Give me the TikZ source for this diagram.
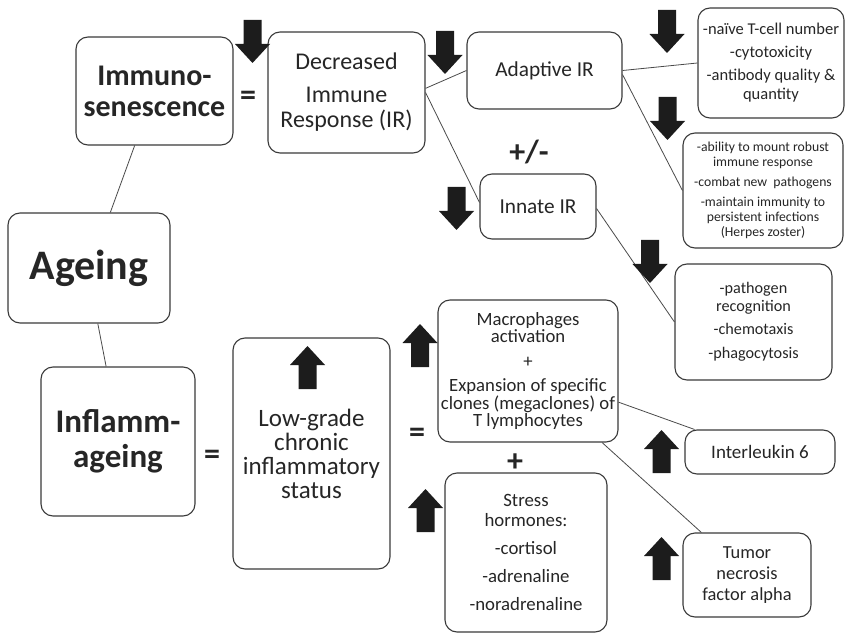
\documentclass[tikz,border=0pt]{standalone}
\usepackage{fontspec}
\setmainfont{Carlito}
\usetikzlibrary{calc}

\definecolor{boxline}{HTML}{3A3A3A}
\definecolor{txtgray}{HTML}{262626}
\definecolor{linkgray}{HTML}{4A4A4A}
\definecolor{arrowblack}{HTML}{1C1C1C}

\tikzset{
  box/.style={draw=boxline, line width=1.1pt, rounded corners=12pt, fill=white,
    align=center, inner sep=2pt, text=txtgray},
  link/.style={draw=linkgray, line width=0.8pt},
  sign/.style={font=\fontsize{32}{32}\selectfont\bfseries, text=txtgray},
  blockarr/.pic={
    \fill[arrowblack] (0,0) -- (17.5,19) -- (9,19) -- (9,43) -- (-9,43)
      -- (-9,19) -- (-17.5,19) -- cycle;
  }
}

\begin{document}
\begin{tikzpicture}[x=1pt, y=-1pt]
    \useasboundingbox (0,0) rectangle (848,636);

    % Left column
    \node[box, minimum width=157, minimum height=108,
      font=\fontsize{30}{31}\selectfont\bfseries] (immuno) at (154.5,91) {Immuno-\\senescence};
    \node[box, minimum width=162, minimum height=110,
      font=\fontsize{42}{44}\selectfont\bfseries] (ageing) at (89,268) {Ageing};
    \node[box, minimum width=154, minimum height=149,
      font=\fontsize{33}{35}\selectfont\bfseries] (inflamm) at (118,441.5) {Inflamm-\\ageing};

    % Immune response branch
    \node[box, minimum width=157, minimum height=121,
      font=\fontsize{24}{25}\selectfont] (decr) at (346.5,92.5) {Decreased\\[8pt]Immune\\Response (IR)};
    \node[box, minimum width=155, minimum height=77,
      font=\fontsize{21.3}{23}\selectfont] (adapt) at (544.5,70.5) {Adaptive IR};
    \node[box, minimum width=116, minimum height=65,
      font=\fontsize{21.3}{23}\selectfont] (innate) at (538,206.5) {Innate IR};
    \node[box, minimum width=146, minimum height=110,
      font=\fontsize{16.5}{19}\selectfont] (naive) at (771,63)
      {-naïve T-cell number\\[4pt]-cytotoxicity\\[4pt]-antibody quality \&\\quantity};
    \node[box, minimum width=160, minimum height=115,
      font=\fontsize{13.7}{15}\selectfont] (ability) at (763,190.5)
      {-ability to mount robust\\immune response\\[5pt]-combat new \ pathogens\\[5pt]-maintain immunity to\\persistent infections\\(Herpes zoster)};
    \node[box, minimum width=157, minimum height=116,
      font=\fontsize{16.2}{17.5}\selectfont] (patho) at (753.5,322)
      {-pathogen\\recognition\\[6pt]-chemotaxis\\[6pt]-phagocytosis};

    % Inflammation branch
    \node[box, minimum width=157, minimum height=231,
      font=\fontsize{25}{24}\selectfont] (lowgrade) at (311.5,453.5)
      {Low-grade\\chronic\\inflammatory\\status};
    \node[box, minimum width=180, minimum height=142,
      font=\fontsize{18.7}{15.5}\selectfont] (macro) at (528,371)
      {Macrophages\\activation\\[9pt]+\\[9pt]Expansion of specific\\clones (megaclones) of\\T lymphocytes};
    \node[box, minimum width=162, minimum height=159,
      font=\fontsize{18.8}{20}\selectfont] (stress) at (526,552.5)
      {Stress\\hormones:\\[8pt]-cortisol\\[8pt]-adrenaline\\[8pt]-noradrenaline};
    \node[box, minimum width=150, minimum height=44,
      font=\fontsize{19}{20}\selectfont] (il6) at (760,452) {Interleukin 6};
    \node[box, minimum width=128, minimum height=84,
      font=\fontsize{18.4}{21}\selectfont] (tnf) at (747,575)
      {Tumor\\necrosis\\factor alpha};

    % Signs
    \node[sign] (eqa) at (248,98) {=};
    \node[sign] (eqb) at (212,457) {=};
    \node[sign] (eqc) at (417,435) {=};
    \node[sign] (plusminus) at (529,152) {+/-};
    \node[sign] (plus) at (515,463) {+};

    % Connectors
    \draw[link] (immuno.250) -- (ageing.69);
    \draw[link] (ageing.279) -- (inflamm.99);
    \draw[link] (decr.3) -- (adapt.180);
    \draw[link] (decr.0) -- (innate.176);
    \draw[link] (adapt.0) -- (naive.180);
    \draw[link] (adapt.-3) -- (ability.180);
    \draw[link] (innate.-2) -- (patho.180);
    \draw[link] (macro.-19.6) -- (il6.161);
    \draw[link] (macro.-44) -- (tnf.137);

    % Down arrows
    \pic[rotate=180] at (252.5,63) {blockarr};
    \pic[rotate=180] at (445,74) {blockarr};
    \pic[rotate=180] at (667,53) {blockarr};
    \pic[rotate=180] at (667.5,140) {blockarr};
    \pic[rotate=180] at (456.5,230) {blockarr};
    \pic[rotate=180] at (650,283) {blockarr};

    % Up arrows
    \pic at (307.5,346) {blockarr};
    \pic at (420,324) {blockarr};
    \pic at (425.5,489) {blockarr};
    \pic at (661.5,430) {blockarr};
    \pic at (661.5,537) {blockarr};
\end{tikzpicture}
\end{document}
